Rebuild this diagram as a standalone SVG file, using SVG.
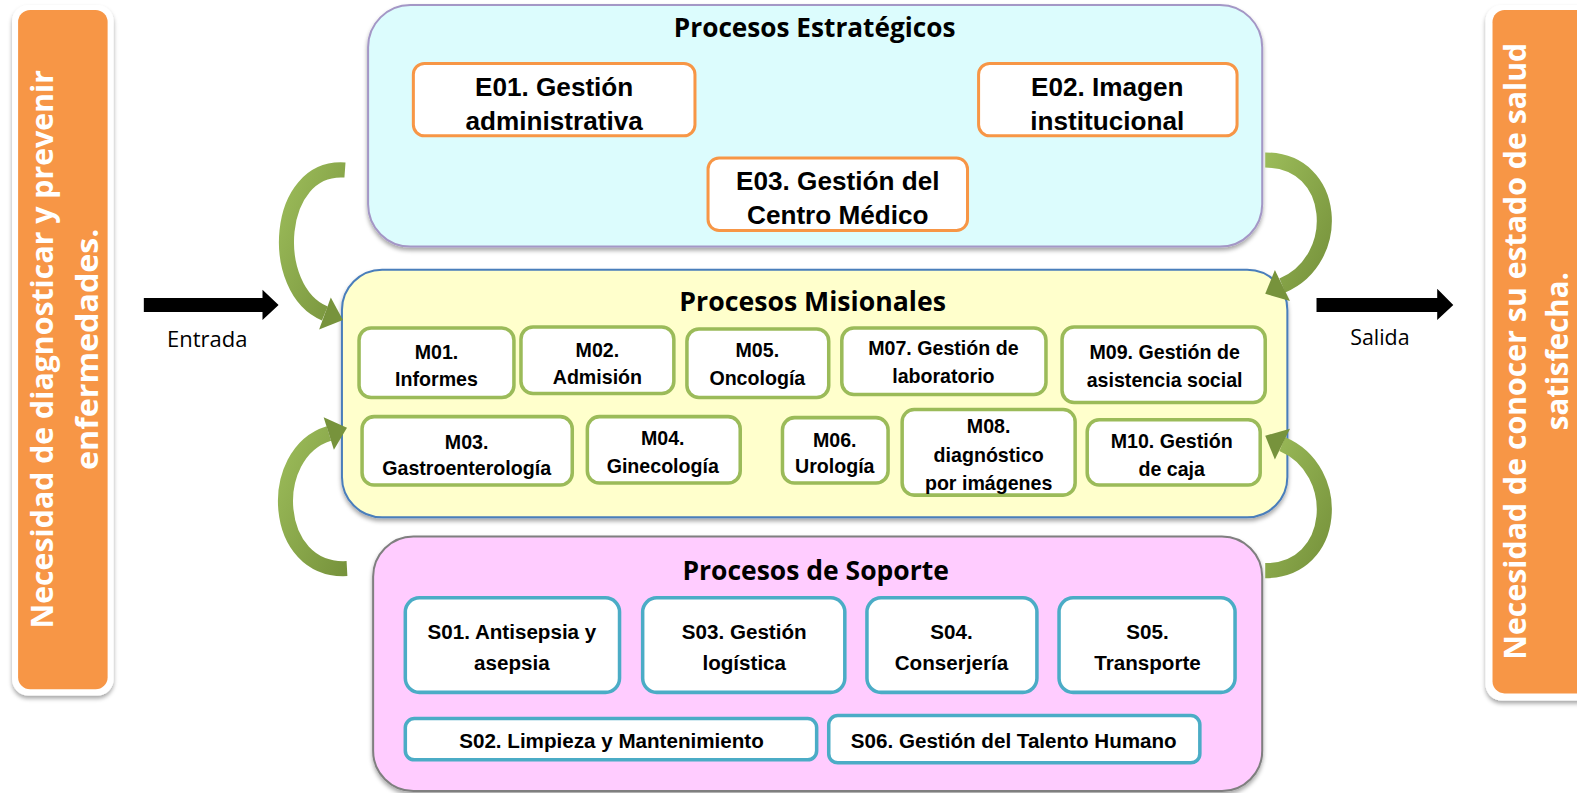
<svg xmlns="http://www.w3.org/2000/svg" width="1577" height="793" viewBox="0 0 1577 793">
  <defs>
    <style>
      .bar-edge{fill:#ffffff}
      .bar{fill:#F79646}
      .vt{font-family:"Open Sans","DejaVu Sans",sans-serif;font-weight:700;font-size:30px;fill:#ffffff;text-anchor:middle}
      .ttl{font-family:"Open Sans","DejaVu Sans",sans-serif;font-weight:700;font-size:26px;fill:#000000;text-anchor:middle}
      .io{font-family:"Open Sans","DejaVu Sans",sans-serif;font-size:21px;fill:#000000;text-anchor:middle}
      .lane{filter:url(#shadow)}
      .e rect{fill:#ffffff;stroke:#F79646;stroke-width:3}
      .e text{font-family:"Liberation Sans",Arial,sans-serif;font-weight:700;font-size:26px;fill:#000;text-anchor:middle}
      .m rect{fill:#ffffff;stroke:#9BBB59;stroke-width:3.5}
      .m text{font-family:"Liberation Sans",Arial,sans-serif;font-weight:700;font-size:19.5px;fill:#000;text-anchor:middle}
      .s rect{fill:#ffffff;stroke:#4BACC6;stroke-width:3.5}
      .s text{font-family:"Liberation Sans",Arial,sans-serif;font-weight:700;font-size:20.5px;fill:#000;text-anchor:middle}
      .band{fill:none;stroke:url(#green);stroke-width:15;stroke-linecap:butt}
      .head{fill:#77933C}
      .flow{fill:#000000}
    </style>
    <filter id="shadow" x="-5%" y="-5%" width="110%" height="115%">
      <feDropShadow dx="0" dy="3" stdDeviation="2" flood-color="#000" flood-opacity="0.35"/>
    </filter>
    <linearGradient id="green" x1="0" y1="0" x2="1" y2="1">
      <stop offset="0" stop-color="#9BBB59"/>
      <stop offset="1" stop-color="#77933C"/>
    </linearGradient>
  </defs>

  <g transform="scale(1.00574 1.00635)">
    <!-- input need -->
    <g id="need-in">
      <rect class="bar-edge lane" x="12" y="5" width="101" height="686" rx="16"/>
      <rect class="bar" x="18" y="10" width="89" height="675" rx="12"/>
      <text class="vt" transform="translate(53,347) rotate(-90)" textLength="555" lengthAdjust="spacingAndGlyphs">Necesidad de diagnosticar y prevenir</text>
      <text class="vt" transform="translate(97,347) rotate(-90)" textLength="240" lengthAdjust="spacingAndGlyphs">enfermedades.</text>
    </g>

    <!-- output need -->
    <g id="need-out">
      <rect class="bar-edge lane" x="1477" y="5" width="130" height="691" rx="16"/>
      <rect class="bar" x="1484" y="10" width="120" height="679" rx="12"/>
      <text class="vt" transform="translate(1517,349) rotate(-90)" textLength="613" lengthAdjust="spacingAndGlyphs">Necesidad de conocer su estado de salud</text>
      <text class="vt" transform="translate(1559,349) rotate(-90)" textLength="157" lengthAdjust="spacingAndGlyphs">satisfecha.</text>
    </g>

    <!-- strategic processes -->
    <g id="estrategicos">
      <rect class="lane" x="366" y="5" width="889" height="240" rx="42" fill="#DCFCFD" stroke="#A497C6" stroke-width="2"/>
      <text class="ttl" x="810" y="37" textLength="280" lengthAdjust="spacingAndGlyphs">Procesos Estratégicos</text>
      <g id="E01" class="e">
        <rect x="411" y="63" width="280" height="72" rx="11"/>
        <text><tspan x="551" y="95">E01. Gestión</tspan><tspan x="551" y="129">administrativa</tspan></text>
      </g>
      <g id="E02" class="e">
        <rect x="973" y="63" width="257" height="72" rx="11"/>
        <text><tspan x="1101" y="95">E02. Imagen</tspan><tspan x="1101" y="129">institucional</tspan></text>
      </g>
      <g id="E03" class="e">
        <rect x="704" y="157" width="258" height="72" rx="11"/>
        <text><tspan x="833" y="189">E03. Gestión del</tspan><tspan x="833" y="223">Centro Médico</tspan></text>
      </g>
    </g>

    <!-- core processes -->
    <g id="misionales">
      <rect class="lane" x="340" y="268" width="940" height="246" rx="40" fill="#FFFFCC" stroke="#4A7EBB" stroke-width="2"/>
      <text class="ttl" x="808" y="309" textLength="265" lengthAdjust="spacingAndGlyphs">Procesos Misionales</text>
      <g id="M01" class="m">
        <rect x="357" y="326" width="154" height="69" rx="12"/>
        <text><tspan x="434" y="357">M01.</tspan><tspan x="434" y="384">Informes</tspan></text>
      </g>
      <g id="M02" class="m">
        <rect x="518" y="325" width="152" height="66" rx="12"/>
        <text><tspan x="594" y="355">M02.</tspan><tspan x="594" y="382">Admisión</tspan></text>
      </g>
      <g id="M05" class="m">
        <rect x="683" y="327" width="141" height="68" rx="12"/>
        <text><tspan x="753" y="355">M05.</tspan><tspan x="753" y="383">Oncología</tspan></text>
      </g>
      <g id="M07" class="m">
        <rect x="837" y="326" width="203" height="66" rx="12"/>
        <text><tspan x="938" y="353">M07. Gestión de</tspan><tspan x="938" y="381">laboratorio</tspan></text>
      </g>
      <g id="M09" class="m">
        <rect x="1056" y="325" width="202" height="75" rx="12"/>
        <text><tspan x="1158" y="357">M09. Gestión de</tspan><tspan x="1158" y="385">asistencia social</tspan></text>
      </g>
      <g id="M03" class="m">
        <rect x="360" y="414" width="209" height="68" rx="12"/>
        <text><tspan x="464" y="446">M03.</tspan><tspan x="464" y="472">Gastroenterología</tspan></text>
      </g>
      <g id="M04" class="m">
        <rect x="584" y="414" width="152" height="66" rx="12"/>
        <text><tspan x="659" y="442">M04.</tspan><tspan x="659" y="470">Ginecología</tspan></text>
      </g>
      <g id="M06" class="m">
        <rect x="778" y="415" width="105" height="65" rx="12"/>
        <text><tspan x="830" y="444">M06.</tspan><tspan x="830" y="470">Urología</tspan></text>
      </g>
      <g id="M08" class="m">
        <rect x="897" y="407" width="172" height="85" rx="12"/>
        <text><tspan x="983" y="430">M08.</tspan><tspan x="983" y="459">diagnóstico</tspan><tspan x="983" y="487">por imágenes</tspan></text>
      </g>
      <g id="M10" class="m">
        <rect x="1081" y="417" width="172" height="65" rx="12"/>
        <text><tspan x="1165" y="445">M10. Gestión</tspan><tspan x="1165" y="473">de caja</tspan></text>
      </g>
    </g>

    <!-- support processes -->
    <g id="soporte">
      <rect class="lane" x="371" y="533" width="884" height="253" rx="40" fill="#FFCCFF" stroke="#7F7F7F" stroke-width="2"/>
      <text class="ttl" x="811" y="576" textLength="265" lengthAdjust="spacingAndGlyphs">Procesos de Soporte</text>
      <g id="S01" class="s">
        <rect x="403" y="594" width="213" height="94" rx="14"/>
        <text><tspan x="509" y="635">S01. Antisepsia y</tspan><tspan x="509" y="666">asepsia</tspan></text>
      </g>
      <g id="S03" class="s">
        <rect x="639" y="594" width="201" height="94" rx="14"/>
        <text><tspan x="740" y="635">S03. Gestión</tspan><tspan x="740" y="666">logística</tspan></text>
      </g>
      <g id="S04" class="s">
        <rect x="862" y="594" width="169" height="94" rx="14"/>
        <text><tspan x="946" y="635">S04.</tspan><tspan x="946" y="666">Conserjería</tspan></text>
      </g>
      <g id="S05" class="s">
        <rect x="1053" y="594" width="175" height="94" rx="14"/>
        <text><tspan x="1141" y="635">S05.</tspan><tspan x="1141" y="666">Transporte</tspan></text>
      </g>
      <g id="S02" class="s">
        <rect x="403" y="714" width="409" height="41" rx="9"/>
        <text x="608" y="743">S02. Limpieza y Mantenimiento</text>
      </g>
      <g id="S06" class="s">
        <rect x="824" y="711" width="369" height="47" rx="9"/>
        <text x="1008" y="743">S06. Gestión del Talento Humano</text>
      </g>
    </g>

    <!-- connectors -->
    <g id="connectors">
      <polygon class="flow" points="143,296 261,296 261,288 277,303 261,318 261,310 143,310"/>
      <text class="io" x="206" y="345" textLength="80" lengthAdjust="spacingAndGlyphs">Entrada</text>
      <polygon class="flow" points="1309,296 1429,296 1429,287 1445,303 1429,318 1429,310 1309,310"/>
      <text class="io" x="1372" y="343" textLength="59" lengthAdjust="spacingAndGlyphs">Salida</text>

      <path class="band" d="M343,169 C273,164 266,288 323,311.5"/>
      <polygon class="head" points="328.9,295.5 341,318 317.3,327.5"/>

      <path class="band" d="M345,565 C270,569 264,450 327,430.7"/>
      <polygon class="head" points="332,446.9 345,425 321.8,414.5"/>

      <path class="band" d="M1258,159 C1330,159 1336,258 1275,283.7"/>
      <polygon class="head" points="1282.6,299 1258,292 1267.6,268.4"/>

      <path class="band" d="M1258,567 C1330,567 1336,467 1275,441.3"/>
      <polygon class="head" points="1282.6,426 1258,433 1267.6,456.6"/>
    </g>
  </g>
</svg>
